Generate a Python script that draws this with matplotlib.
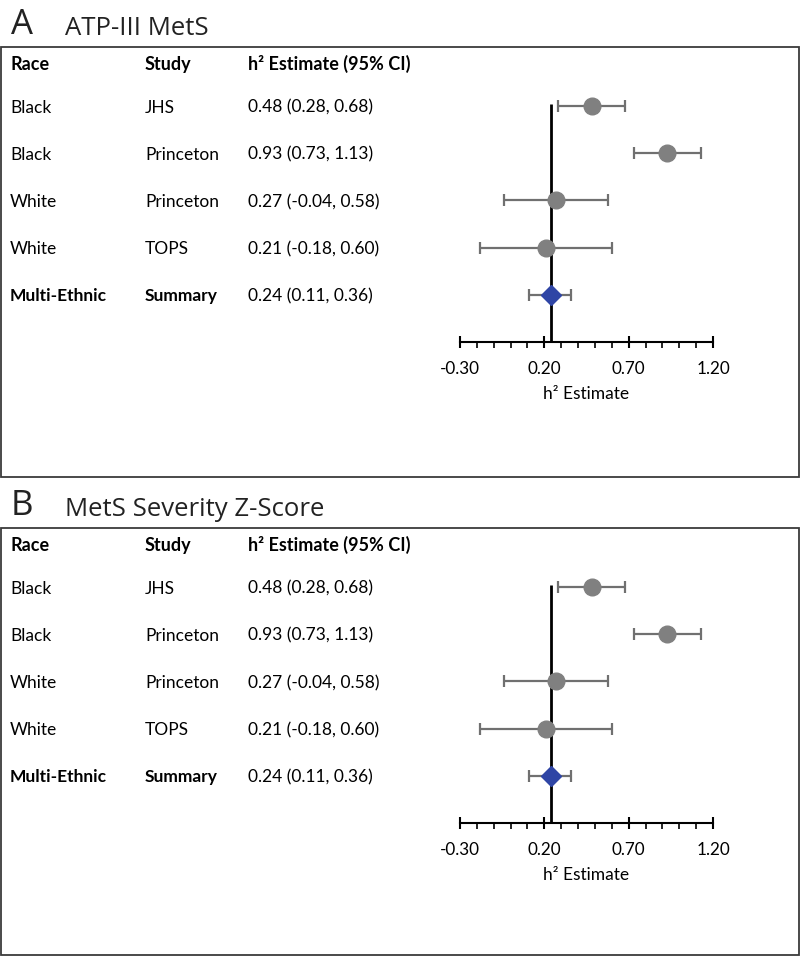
import matplotlib.pyplot as plt
from matplotlib.patches import Rectangle
from matplotlib.transforms import blended_transform_factory
from matplotlib.ticker import FixedLocator, MultipleLocator

# panel data
panels = ['A', 'B']
titles = ['ATP-III MetS', 'MetS Severity Z-Score']
race = ['Black', 'Black', 'White', 'White', 'Multi-Ethnic']
study = ['JHS', 'Princeton', 'Princeton', 'TOPS', 'Summary']
est = [0.48, 0.93, 0.27, 0.21, 0.24]
lo = [0.28, 0.73, -0.04, -0.18, 0.11]
hi = [0.68, 1.13, 0.58, 0.60, 0.36]
ci_text = ['0.48 (0.28, 0.68)', '0.93 (0.73, 1.13)', '0.27 (-0.04, 0.58)',
           '0.21 (-0.18, 0.60)', '0.24 (0.11, 0.36)']
xticks = [-0.30, 0.20, 0.70, 1.20]

W, H = 800, 957
fig = plt.figure(figsize=(W / 100, H / 100), dpi=100)
body = 'Lato'
head = 'Open Sans'
fs = 12.5

def fx(px):
    return px / W

def fy(py):
    return 1 - py / H

for k, off in enumerate([0, 481]):
    # outer box and panel title
    bh = 430 if k == 0 else 427
    fig.patches.append(Rectangle((fx(1), fy(47 + bh + off)), fx(798), bh / H,
                                 transform=fig.transFigure, fill=False,
                                 ec='#3a3a3a', lw=1.3))
    fig.text(fx(11), fy(34 + off), panels[k], fontsize=25, family=head,
             va='baseline', ha='left', color='#222222')
    fig.text(fx(65), fy(35 + off), titles[k], fontsize=18.5, family=head,
             va='baseline', ha='left', color='#222222')

    ax = fig.add_axes([fx(460), fy(342 + off), fx(253), 292.6 / H])
    ax.set_xlim(-0.30, 1.20)
    ax.set_ylim(5, -1.2)
    for s in ['top', 'left', 'right']:
        ax.spines[s].set_visible(False)
    ax.spines['bottom'].set_linewidth(1.5)
    ax.set_yticks([])
    ax.xaxis.set_major_locator(FixedLocator(xticks))
    ax.xaxis.set_minor_locator(MultipleLocator(0.1))
    ax.set_xticklabels(['%.2f' % t for t in xticks], fontsize=12.3,
                       family=body)
    ax.tick_params(axis='x', which='major', direction='inout', length=9,
                   width=1.5, pad=9)
    ax.tick_params(axis='x', which='minor', direction='out', length=4,
                   width=1.2)
    ax.set_xlabel('h² Estimate', fontsize=fs, family=body, labelpad=7)

    # reference line at summary estimate
    ax.vlines(est[-1], -0.05, 5, color='black', lw=2, zorder=2)

    n = len(est)
    for i in range(n):
        last = i == n - 1
        ax.errorbar(est[i], i, xerr=[[est[i] - lo[i]], [hi[i] - est[i]]],
                    fmt='D' if last else 'o',
                    color='#2f45a5' if last else '#808080',
                    ecolor='#707070', elinewidth=1.6, capsize=4,
                    capthick=1.6, markersize=10 if last else 12, zorder=3)

    tr = blended_transform_factory(fig.transFigure, ax.transData)
    hdr = ['Race', 'Study', 'h² Estimate (95% CI)']
    cols = [10, 145, 248]
    for c, h in zip(cols, hdr):
        ax.text(fx(c), -0.92, h, transform=tr, fontsize=13, family=body,
                weight='bold', va='center_baseline', ha='left')
    for i in range(n):
        w = 'bold' if i == n - 1 else 'normal'
        ax.text(fx(cols[0]), i, race[i], transform=tr, fontsize=fs,
                family=body, weight=w, va='center_baseline')
        ax.text(fx(cols[1]), i, study[i], transform=tr, fontsize=fs,
                family=body, weight=w, va='center_baseline')
        ax.text(fx(cols[2]), i, ci_text[i], transform=tr, fontsize=fs,
                family=body, va='center_baseline')

fig.savefig('out.png', dpi=100)
